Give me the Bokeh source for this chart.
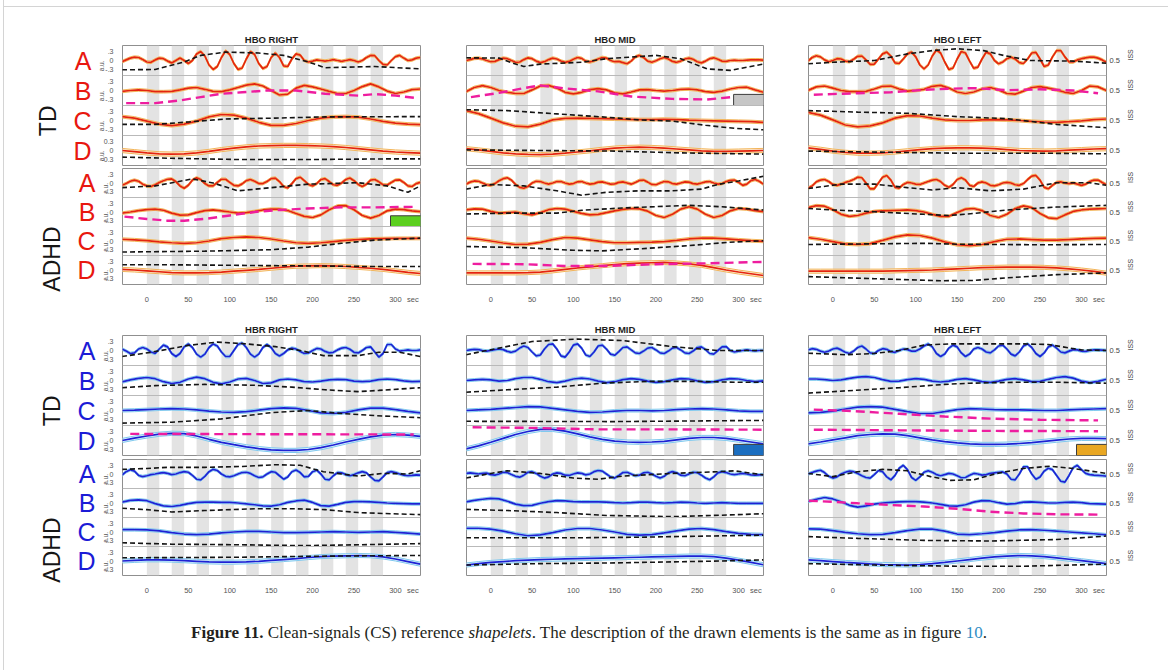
import math
from bokeh.embed import file_html
from bokeh.layouts import column, row
from bokeh.models import ColumnDataSource, Div, FixedTicker, LinearAxis, Range1d, Span
from bokeh.plotting import figure
from bokeh.resources import INLINE
from bokeh.transform import dodge

# ---------------------------------------------------------------- sample times (s)
T5 = list(range(-30, 331, 5))     # strip A
T10 = list(range(-30, 331, 10))   # strip B
T15 = list(range(-30, 331, 15))   # strips C, D

# stimulation blocks (grey bands)
BLOCK_START = [0, 30, 60, 90, 120, 150, 180, 210, 240, 270]
BLOCK_LEN = 15
X_TICKS = [0, 50, 100, 150, 200, 250, 300]
SEC_POS = 321

# ---------------------------------------------------------------- HBO RIGHT
HBO_RIGHT_TD_A = [-0.04, 0.02, 0.08, 0.11, 0.10, 0.03, -0.05, -0.06, 0.02, 0.08, 0.06, -0.02, -0.08, 0.0, 0.08, 0.0, -0.10,
                  0.0, 0.22, 0.30, 0.15, -0.15, -0.30, -0.20, 0.10, 0.32, 0.20, -0.10, -0.30, -0.25, 0.05, 0.30, 0.20, -0.10, -0.27, -0.20, 0.10,
                  0.25, 0.10, -0.18, -0.20, 0.05, 0.22, 0.18, 0.0, -0.05, -0.02,
                  0.02, 0.0, -0.02, 0.0, 0.03, 0.0, -0.03, 0.0, 0.03, 0.0, -0.05, 0.0, 0.10, 0.17, 0.16, 0.0, -0.13, -0.15, 0.0, 0.13, 0.17, 0.08, 0.0, 0.02, 0.08, 0.10]
HBO_RIGHT_TD_A_DX = [-30, 10, 45, 65, 95, 135, 165, 195, 215, 275, 330]
HBO_RIGHT_TD_A_DY = [-0.31, -0.30, -0.05, 0.17, 0.28, 0.25, 0.17, -0.05, -0.24, -0.20, -0.28]
HBO_RIGHT_TD_B = [-0.03, 0.0, 0.02, 0.0, -0.04, -0.04, -0.03, 0.02, 0.08, 0.10, 0.04, -0.03, -0.04, 0.02, 0.10, 0.18, 0.22, 0.15, 0.0,
                  -0.15, -0.12, 0.08, 0.17, 0.12, 0.05, -0.03, -0.10, -0.10, 0.0, 0.13, 0.22, 0.12, -0.02, -0.10, -0.05, 0.03, 0.05]
HBO_RIGHT_TD_B_DX = [-25, 10, 40, 65, 90, 115, 145, 180, 215, 255, 275, 300, 325]
HBO_RIGHT_TD_B_DY = [-0.42, -0.42, -0.33, -0.22, -0.11, -0.06, 0.0, 0.0, -0.11, -0.17, -0.12, -0.17, -0.25]
HBO_RIGHT_TD_C = [0.13, 0.08, -0.02, -0.12, -0.17, -0.12, -0.02, 0.12, 0.20, 0.18, 0.08, -0.06, -0.16, -0.16, -0.10, 0.0, 0.08, 0.12, 0.13,
                  0.11, 0.05, -0.03, -0.09, -0.12, -0.14]
HBO_RIGHT_TD_C_DX = [-30, 10, 50, 95, 155, 215, 330]
HBO_RIGHT_TD_C_DY = [-0.13, -0.13, -0.05, 0.05, 0.08, 0.12, 0.13]
HBO_RIGHT_TD_D = [0.0, -0.04, -0.08, -0.11, -0.12, -0.11, -0.08, -0.03, 0.03, 0.08, 0.12, 0.15, 0.16, 0.17, 0.17, 0.16, 0.15, 0.13, 0.10,
                  0.06, 0.02, -0.02, -0.05, -0.07, -0.09]
HBO_RIGHT_TD_D_DX = [-30, 30, 110, 200, 290, 330]
HBO_RIGHT_TD_D_DY = [-0.22, -0.26, -0.30, -0.30, -0.28, -0.28]

HBO_RIGHT_ADHD_A = [-0.08, -0.02, 0.06, 0.10, 0.06, -0.04, -0.10, -0.12, -0.06, 0.02, 0.08, 0.13, 0.14, 0.05, -0.10, -0.18, -0.08,
                    0.10, 0.18, 0.12, -0.02, -0.10, -0.10, 0.02, 0.13, 0.13, 0.02, -0.08, -0.10, -0.03, 0.08, 0.12, 0.06, -0.02, -0.02, 0.05, 0.15,
                    0.17, 0.05, -0.12, -0.17, -0.02, 0.15, 0.20, 0.08, -0.05, -0.10,
                    -0.02, 0.12, 0.15, 0.05, -0.06, -0.08, 0.0, 0.12, 0.17, 0.08, -0.05, -0.12, -0.04, 0.10, 0.12, 0.04, -0.06, -0.07, 0.02, 0.10,
                    0.11, 0.02, -0.10, -0.12, -0.02, 0.02]
HBO_RIGHT_ADHD_A_DX = [-30, 10, 55, 80, 110, 150, 195, 255, 290, 315, 330]
HBO_RIGHT_ADHD_A_DY = [-0.16, -0.10, 0.14, 0.0, -0.27, -0.16, -0.04, 0.01, -0.10, -0.32, -0.10]
HBO_RIGHT_ADHD_B = [-0.04, 0.0, 0.05, 0.08, 0.10, 0.06, -0.04, -0.11, -0.10, -0.02, 0.05, 0.07, 0.04, 0.0, -0.04, -0.02, 0.02, 0.07, 0.10,
                    0.10, 0.05, -0.05, -0.15, -0.19, -0.10, 0.08, 0.21, 0.22, 0.08, -0.12, -0.21, -0.12, 0.04, 0.10, 0.08, 0.04, 0.01]
HBO_RIGHT_ADHD_B_DX = [-27, 0, 25, 45, 72, 100, 133, 161, 193, 234, 274, 326]
HBO_RIGHT_ADHD_B_DY = [-0.16, -0.24, -0.30, -0.30, -0.23, -0.12, 0.01, 0.07, 0.12, 0.16, 0.16, 0.18]
HBO_RIGHT_ADHD_C = [0.06, 0.04, 0.01, -0.03, -0.06, -0.08, -0.06, 0.0, 0.08, 0.12, 0.14, 0.12, 0.07, 0.0, -0.06, -0.08, -0.06, -0.02,
                    0.02, 0.05, 0.07, 0.08, 0.09, 0.09, 0.09]
HBO_RIGHT_ADHD_C_DX = [-30, 70, 150, 195, 235, 275, 330]
HBO_RIGHT_ADHD_C_DY = [-0.38, -0.35, -0.30, -0.21, -0.08, 0.03, 0.10]
HBO_RIGHT_ADHD_D = [0.02, 0.0, -0.03, -0.06, -0.09, -0.10, -0.10, -0.09, -0.07, -0.04, -0.01, 0.02, 0.06, 0.10, 0.13, 0.14, 0.15, 0.14,
                    0.12, 0.09, 0.06, 0.02, -0.03, -0.08, -0.12]
HBO_RIGHT_ADHD_D_DX = [-30, 30, 150, 200, 270, 330]
HBO_RIGHT_ADHD_D_DY = [0.18, 0.18, 0.15, 0.14, 0.12, 0.12]

# ---------------------------------------------------------------- HBO MID
HBO_MID_TD_A = [0.0, 0.03, 0.07, 0.08, 0.05, 0.0, -0.04, -0.03, 0.03, 0.08, 0.06, 0.0, -0.06, -0.05, 0.03, 0.09, 0.06,
                -0.02, -0.07, -0.04, 0.03, 0.08, 0.05, -0.02, -0.06, -0.03, 0.04, 0.10, 0.07, -0.02, -0.05, -0.01, 0.05, 0.10, 0.08, 0.0, -0.04,
                -0.03, -0.07, -0.11, -0.02, 0.12, 0.17, 0.10, -0.02, -0.06, -0.01,
                0.06, 0.10, 0.05, -0.03, -0.06, -0.02, 0.05, 0.08, 0.04, -0.04, -0.08, -0.02, 0.06, 0.09, 0.04, -0.02, -0.03, 0.0, 0.01, 0.0,
                0.0, 0.01, 0.02, 0.02, 0.02, 0.01]
HBO_MID_TD_A_DX = [-30, 10, 30, 40, 60, 110, 140, 200, 230, 262, 290, 330]
HBO_MID_TD_A_DY = [0.09, 0.08, -0.12, -0.20, -0.12, -0.06, 0.06, 0.17, 0.06, -0.28, -0.33, -0.12]
HBO_MID_TD_B = [-0.04, 0.10, 0.16, 0.10, 0.0, -0.06, -0.10, -0.10, 0.02, 0.15, 0.17, 0.08, -0.06, -0.11, -0.06, 0.03, 0.06, 0.02, -0.08,
                -0.11, -0.05, 0.02, 0.03, 0.0, -0.02, 0.0, 0.04, 0.05, 0.02, -0.04, -0.06, -0.02, 0.05, 0.10, 0.11, 0.02, -0.06]
HBO_MID_TD_B_DX = [-24, 10, 40, 60, 90, 130, 170, 220, 262, 292]
HBO_MID_TD_B_DY = [-0.22, -0.08, 0.08, 0.17, 0.07, -0.03, -0.20, -0.28, -0.30, -0.22]
HBO_MID_TD_C = [0.33, 0.23, 0.08, -0.08, -0.19, -0.21, -0.12, 0.02, 0.07, 0.08, 0.07, 0.06, 0.05, 0.04, 0.03, 0.03, 0.04, 0.03, 0.01,
                0.0, -0.01, -0.02, -0.03, -0.04, -0.06]
HBO_MID_TD_C_DX = [-30, 20, 80, 140, 180, 220, 260, 295, 330]
HBO_MID_TD_C_DY = [0.36, 0.33, 0.22, 0.11, 0.02, -0.02, -0.16, -0.26, -0.31]
HBO_MID_TD_D = [0.06, 0.02, -0.03, -0.08, -0.11, -0.13, -0.14, -0.12, -0.09, -0.05, -0.01, 0.04, 0.08, 0.10, 0.11, 0.10, 0.08, 0.05,
                0.02, -0.01, -0.03, -0.03, -0.02, -0.01, 0.0]
HBO_MID_TD_D_DX = [-30, 60, 150, 230, 330]
HBO_MID_TD_D_DY = [0.02, 0.0, -0.02, -0.08, -0.12]

HBO_MID_ADHD_A = [-0.04, 0.03, 0.07, 0.06, 0.0, -0.06, -0.08, -0.02, 0.08, 0.15, 0.18, 0.10, -0.05, -0.15, -0.18, -0.12, 0.0,
                  0.06, 0.05, 0.0, -0.04, 0.0, 0.05, 0.05, 0.0, -0.04, -0.02, 0.04, 0.05, 0.0, -0.04, -0.02, 0.03, 0.04, 0.0, -0.04, -0.03,
                  0.02, 0.04, 0.0, -0.04, 0.02, 0.09, 0.10, 0.03, -0.05, -0.06,
                  0.0, 0.05, 0.04, -0.02, -0.04, 0.0, 0.04, 0.03, -0.02, -0.04, 0.0, 0.04, 0.05, 0.0, -0.04, -0.02, 0.05, 0.09, 0.10, 0.02,
                  -0.08, -0.04, 0.08, 0.12, 0.06, -0.04]
HBO_MID_ADHD_A_DX = [-30, 0, 40, 80, 110, 140, 180, 220, 255, 275, 300, 330]
HBO_MID_ADHD_A_DY = [-0.21, -0.05, -0.10, -0.27, -0.42, -0.32, -0.27, -0.27, -0.21, -0.05, 0.07, 0.23]
HBO_MID_ADHD_B = [0.07, 0.11, 0.10, 0.02, -0.04, -0.02, 0.0, -0.06, -0.10, -0.02, 0.08, 0.12, 0.10, 0.02, -0.05, -0.10, -0.08, -0.02,
                  0.04, 0.09, 0.12, 0.11, 0.03, -0.12, -0.19, -0.08, 0.10, 0.18, 0.10, -0.08, -0.19, -0.12, 0.04, 0.12, 0.10, 0.05, 0.01]
HBO_MID_ADHD_B_DX = [-30, 20, 80, 110, 160, 240, 280, 330]
HBO_MID_ADHD_B_DY = [-0.07, -0.04, -0.04, 0.06, 0.14, 0.23, 0.18, 0.07]
HBO_MID_ADHD_C = [0.10, 0.06, 0.0, -0.07, -0.12, -0.11, -0.05, 0.05, 0.12, 0.10, 0.04, -0.02, -0.06, -0.06, -0.05, -0.04, -0.02, 0.02,
                  0.07, 0.10, 0.10, 0.07, 0.04, 0.01, -0.01]
HBO_MID_ADHD_C_DX = [-30, 40, 100, 135, 180, 240, 285, 330]
HBO_MID_ADHD_C_DY = [-0.19, -0.23, -0.32, -0.34, -0.27, -0.16, -0.05, 0.01]
HBO_MID_ADHD_D = [-0.10, -0.10, -0.10, -0.10, -0.10, -0.09, -0.07, -0.03, 0.02, 0.07, 0.11, 0.15, 0.19, 0.22, 0.24, 0.25, 0.26, 0.24,
                  0.21, 0.16, 0.08, 0.0, -0.07, -0.13, -0.19]
HBO_MID_ADHD_D_DX = [-22, 40, 90, 140, 200, 260, 330]
HBO_MID_ADHD_D_DY = [0.21, 0.20, 0.14, 0.14, 0.20, 0.23, 0.28]

# ---------------------------------------------------------------- HBO LEFT
HBO_LEFT_TD_A = [-0.02, 0.10, 0.16, 0.12, 0.02, -0.04, 0.0, 0.06, 0.05, -0.02, -0.04, 0.04, 0.14, 0.15, 0.02, -0.13, -0.12,
                 0.05, 0.22, 0.28, 0.15, -0.08, -0.10, 0.05, 0.22, 0.28, 0.12, -0.15, -0.28, -0.15, 0.15, 0.35, 0.25, -0.05, -0.30, -0.25, 0.05,
                 0.30, 0.25, -0.02, -0.26, -0.22, 0.05, 0.28, 0.22, 0.0, -0.11,
                 -0.05, 0.06, 0.11, 0.05, -0.07, -0.10, 0.05, 0.25, 0.27, 0.05, -0.20, -0.15, 0.12, 0.33, 0.33, 0.12, -0.05, -0.05, 0.02, 0.06,
                 0.09, 0.11, 0.11, 0.08, 0.02, -0.06]
HBO_LEFT_TD_A_DX = [-30, 0, 50, 90, 120, 150, 182, 206, 238, 290, 330]
HBO_LEFT_TD_A_DY = [-0.11, -0.06, 0.0, 0.22, 0.33, 0.39, 0.33, 0.17, 0.0, -0.02, -0.09]
HBO_LEFT_TD_B = [0.0, 0.12, 0.15, 0.08, 0.0, -0.04, -0.04, -0.03, 0.05, 0.14, 0.15, 0.05, -0.02, 0.0, 0.04, 0.14, 0.17, 0.08, -0.05,
                 -0.10, -0.05, 0.05, 0.10, 0.02, -0.10, -0.12, -0.02, 0.10, 0.13, 0.08, 0.02, -0.06, -0.10, 0.0, 0.15, 0.12, 0.0]
HBO_LEFT_TD_B_DX = [-23, 30, 70, 110, 140, 170, 210, 250, 290, 320]
HBO_LEFT_TD_B_DY = [-0.14, -0.09, -0.06, 0.02, 0.06, 0.08, 0.01, 0.04, 0.0, -0.09]
HBO_LEFT_TD_C = [0.27, 0.18, 0.02, -0.15, -0.21, -0.18, -0.08, 0.08, 0.16, 0.15, 0.08, 0.02, 0.0, 0.0, 0.02, 0.03, 0.02, 0.0, -0.03,
                 -0.05, -0.06, -0.04, -0.01, 0.03, 0.05]
HBO_LEFT_TD_C_DX = [-30, 30, 90, 150, 210, 270, 330]
HBO_LEFT_TD_C_DY = [0.33, 0.28, 0.24, 0.13, 0.06, -0.13, -0.24]
HBO_LEFT_TD_D = [0.09, 0.04, -0.02, -0.06, -0.09, -0.09, -0.08, -0.05, -0.01, 0.03, 0.06, 0.08, 0.09, 0.09, 0.08, 0.06, 0.03, 0.0,
                 -0.01, -0.02, -0.01, 0.01, 0.03, 0.05, 0.06]
HBO_LEFT_TD_D_DX = [-30, 70, 150, 250, 330]
HBO_LEFT_TD_D_DY = [-0.02, -0.06, -0.09, -0.09, -0.11]

HBO_LEFT_ADHD_A = [-0.18, -0.10, 0.04, 0.10, 0.12, 0.05, -0.05, -0.08, -0.04, 0.02, 0.06, 0.12, 0.20, 0.18, 0.0, -0.20, -0.20,
                   0.0, 0.20, 0.26, 0.10, -0.15, -0.18, -0.05, 0.02, 0.0, -0.04, -0.05, 0.0, 0.05, 0.10, 0.12, 0.05, -0.08, -0.15, -0.05, 0.12,
                   0.18, 0.10, -0.08, -0.12, 0.0, 0.04, 0.0, -0.08, -0.10, -0.06,
                   0.0, 0.02, 0.0, -0.06, -0.08, -0.02, 0.12, 0.24, 0.26, 0.10, -0.15, -0.20, -0.08, 0.02, 0.04, 0.0, -0.02, 0.0, -0.04, -0.08,
                   -0.04, 0.05, 0.10, 0.10, 0.02, -0.06]
HBO_LEFT_ADHD_A_DX = [-30, 10, 50, 90, 120, 150, 190, 230, 270, 310, 330]
HBO_LEFT_ADHD_A_DY = [-0.19, -0.04, -0.04, -0.16, -0.24, -0.16, -0.27, -0.21, 0.01, 0.01, -0.08]
HBO_LEFT_ADHD_B = [0.15, 0.22, 0.20, 0.08, -0.08, -0.15, -0.12, -0.04, 0.02, 0.04, 0.05, 0.06, 0.07, 0.05, 0.0, -0.08, -0.15, -0.15,
                   -0.02, 0.10, 0.12, 0.05, -0.12, -0.19, -0.08, 0.12, 0.21, 0.15, -0.05, -0.20, -0.23, -0.10, 0.02, 0.07, 0.10, 0.11, 0.12]
HBO_LEFT_ADHD_B_DX = [-30, 0, 50, 110, 140, 170, 210, 270, 330]
HBO_LEFT_ADHD_B_DY = [0.12, 0.07, 0.01, -0.08, -0.12, -0.05, 0.07, 0.17, 0.23]
HBO_LEFT_ADHD_C = [0.12, 0.06, -0.02, -0.10, -0.12, -0.09, 0.02, 0.14, 0.21, 0.19, 0.10, -0.03, -0.13, -0.16, -0.12, -0.02, 0.06, 0.07,
                   0.05, 0.03, 0.03, 0.05, 0.07, 0.09, 0.10]
HBO_LEFT_ADHD_C_DX = [-30, 110, 150, 250, 330]
HBO_LEFT_ADHD_C_DY = [-0.12, -0.08, -0.11, -0.13, -0.12]
HBO_LEFT_ADHD_D = [-0.04, -0.04, -0.04, -0.04, -0.04, -0.04, -0.04, -0.03, -0.02, -0.01, 0.0, 0.02, 0.04, 0.06, 0.08, 0.09, 0.10, 0.10,
                   0.10, 0.09, 0.07, 0.04, 0.0, -0.05, -0.11]
HBO_LEFT_ADHD_D_DX = [-30, 50, 130, 170, 210, 270, 330]
HBO_LEFT_ADHD_D_DY = [-0.23, -0.30, -0.37, -0.36, -0.27, -0.16, -0.10]

# ---------------------------------------------------------------- HBR RIGHT
HBR_RIGHT_TD_A = [0.05, -0.02, -0.10, -0.08, 0.05, 0.10, 0.05, -0.05, -0.10, 0.05, 0.18, 0.12, -0.10, -0.20, -0.10, 0.12, 0.22,
                  0.10, -0.12, -0.22, -0.12, 0.10, 0.22, 0.15, -0.05, -0.20, -0.20, 0.0, 0.20, 0.25, 0.10, -0.12, -0.22, -0.12, 0.10, 0.20, 0.10,
                  -0.10, -0.18, -0.10, 0.02, 0.08, 0.05, -0.03, -0.10, -0.08, 0.0,
                  0.07, 0.05, -0.03, -0.08, -0.06, 0.02, 0.08, 0.10, 0.04, -0.06, -0.08, 0.0, 0.10, 0.12, -0.05, -0.22, -0.10, 0.20, 0.20, 0.05,
                  -0.02, 0.0, 0.02, 0.0, 0.0, 0.02]
HBR_RIGHT_TD_A_DX = [-30, 5, 50, 85, 120, 155, 185, 213, 255, 280, 305, 330]
HBR_RIGHT_TD_A_DY = [-0.20, -0.06, 0.17, 0.28, 0.22, 0.13, 0.0, -0.17, -0.17, -0.06, -0.06, -0.20]
HBR_RIGHT_TD_B = [-0.05, 0.02, 0.07, 0.10, 0.06, -0.04, -0.10, -0.06, 0.05, 0.11, 0.06, -0.06, -0.11, -0.05, 0.05, 0.07, 0.0, -0.10,
                  -0.08, 0.02, 0.05, 0.02, -0.04, -0.05, -0.02, 0.02, 0.04, 0.03, -0.02, -0.04, -0.02, 0.03, 0.05, 0.03, -0.01, -0.04, -0.03]
HBR_RIGHT_TD_B_DX = [-30, 10, 70, 130, 175, 215, 255, 280, 330]
HBR_RIGHT_TD_B_DY = [-0.24, -0.17, -0.13, -0.16, -0.22, -0.31, -0.37, -0.33, -0.24]
HBR_RIGHT_TD_C = [0.0, 0.01, 0.03, 0.05, 0.06, 0.05, 0.02, -0.02, -0.05, -0.06, -0.04, 0.01, 0.06, 0.09, 0.07, 0.0, -0.08, -0.10,
                  -0.06, 0.02, 0.08, 0.08, 0.03, -0.03, -0.08]
HBR_RIGHT_TD_C_DX = [-30, 30, 90, 150, 195, 235, 275, 330]
HBR_RIGHT_TD_C_DY = [-0.42, -0.39, -0.28, -0.07, 0.0, -0.10, -0.17, -0.24]
HBR_RIGHT_TD_D = [0.0, 0.08, 0.15, 0.21, 0.24, 0.23, 0.15, 0.04, -0.06, -0.14, -0.21, -0.27, -0.31, -0.33, -0.33, -0.30, -0.24, -0.15,
                  -0.05, 0.04, 0.12, 0.18, 0.20, 0.18, 0.14]
HBR_RIGHT_TD_D_DX = [-20, 150, 322]
HBR_RIGHT_TD_D_DY = [0.22, 0.21, 0.20]

HBR_RIGHT_ADHD_A = [-0.04, 0.08, 0.15, 0.10, -0.05, -0.09, -0.06, -0.02, 0.0, 0.03, 0.05, 0.02, -0.02, 0.0, 0.05, 0.08, 0.06,
                    -0.05, -0.18, -0.20, -0.08, 0.08, 0.16, 0.12, 0.0, -0.08, -0.10, -0.06, 0.0, 0.05, 0.06, 0.02, -0.06, -0.12, -0.10, 0.0, 0.08,
                    0.06, -0.06, -0.18, -0.10, 0.08, 0.14, 0.05, -0.10, -0.08, 0.08,
                    0.13, 0.0, -0.18, -0.20, -0.06, 0.05, 0.04, -0.02, -0.06, -0.02, 0.04, 0.08, 0.04, -0.10, -0.22, -0.24, -0.10, 0.05, 0.08, 0.05,
                    0.0, -0.04, -0.06, -0.05, -0.03, -0.04]
HBR_RIGHT_ADHD_A_DX = [-30, 0, 25, 70, 115, 155, 185, 213, 255, 285, 315, 330]
HBR_RIGHT_ADHD_A_DY = [0.16, 0.19, 0.23, 0.23, 0.26, 0.32, 0.30, 0.08, -0.07, 0.02, 0.0, 0.11]
HBR_RIGHT_ADHD_B = [0.03, 0.09, 0.11, 0.08, -0.02, -0.10, -0.12, -0.08, -0.02, 0.02, 0.03, 0.03, 0.02, 0.02, 0.0, -0.03, -0.06, -0.10,
                    -0.11, -0.06, 0.02, 0.07, 0.10, 0.02, -0.09, -0.11, -0.05, 0.02, 0.05, 0.05, 0.04, 0.02, 0.0, -0.01, -0.02, -0.03, -0.03]
HBR_RIGHT_ADHD_B_DX = [-30, 0, 30, 70, 130, 180, 215, 255, 295, 330]
HBR_RIGHT_ADHD_B_DY = [-0.18, -0.23, -0.31, -0.26, -0.20, -0.20, -0.23, -0.33, -0.37, -0.40]
HBR_RIGHT_ADHD_C = [0.08, 0.08, 0.07, 0.04, -0.02, -0.07, -0.09, -0.07, -0.03, 0.0, 0.02, 0.02, 0.0, -0.02, -0.02, -0.01, 0.0, 0.01,
                    0.0, -0.01, 0.0, 0.01, -0.01, -0.04, -0.07]
HBR_RIGHT_ADHD_C_DX = [-30, 30, 110, 190, 255, 330]
HBR_RIGHT_ADHD_C_DY = [-0.37, -0.42, -0.44, -0.47, -0.44, -0.40]
HBR_RIGHT_ADHD_D = [0.0, 0.02, 0.04, 0.04, 0.03, 0.01, -0.01, -0.03, -0.04, -0.04, -0.03, -0.01, 0.02, 0.05, 0.08, 0.12, 0.15, 0.17,
                    0.18, 0.19, 0.18, 0.14, 0.07, -0.02, -0.11]
HBR_RIGHT_ADHD_D_DX = [-30, 110, 190, 270, 330]
HBR_RIGHT_ADHD_D_DY = [0.11, 0.13, 0.16, 0.18, 0.19]

# ---------------------------------------------------------------- HBR MID
HBR_MID_TD_A = [0.0, 0.02, 0.04, 0.03, 0.0, -0.02, 0.0, 0.03, 0.05, 0.03, -0.03, -0.06, -0.02, 0.08, 0.15, 0.10, -0.05,
                -0.18, -0.15, 0.05, 0.20, 0.22, 0.05, -0.18, -0.22, -0.05, 0.18, 0.22, 0.08, -0.15, -0.20, -0.05, 0.15, 0.18, 0.05, -0.12, -0.16,
                -0.04, 0.10, 0.12, 0.02, -0.08, -0.10, -0.02, 0.08, 0.10, 0.02,
                -0.08, -0.10, -0.02, 0.08, 0.10, 0.02, -0.08, -0.10, -0.02, 0.10, 0.12, 0.03, -0.10, -0.12, 0.0, 0.12, 0.13, 0.0, -0.05, -0.02,
                0.0, 0.02, 0.0, -0.01, 0.0, 0.0]
HBR_MID_TD_A_DX = [-30, 10, 50, 105, 160, 220, 275, 330]
HBR_MID_TD_A_DY = [-0.14, 0.08, 0.30, 0.38, 0.33, 0.13, 0.0, 0.0]
HBR_MID_TD_B = [0.0, 0.02, 0.04, 0.02, -0.02, 0.0, 0.06, 0.10, 0.10, 0.04, -0.04, -0.07, -0.02, 0.05, 0.08, 0.05, -0.02, -0.07, -0.04,
                0.03, 0.06, 0.04, -0.02, -0.06, -0.04, 0.02, 0.06, 0.05, -0.01, -0.06, -0.04, 0.02, 0.06, 0.05, 0.0, -0.04, -0.01]
HBR_MID_TD_B_DX = [-30, 20, 80, 135, 190, 250, 300, 330]
HBR_MID_TD_B_DY = [-0.39, -0.31, -0.22, -0.09, -0.03, -0.03, -0.06, -0.06]
HBR_MID_TD_C = [0.0, 0.02, 0.04, 0.07, 0.10, 0.13, 0.12, 0.07, 0.02, -0.03, -0.06, -0.05, -0.02, 0.0, 0.0, -0.01, 0.0, 0.03, 0.05,
                0.06, 0.05, 0.02, -0.01, -0.03, -0.03]
HBR_MID_TD_C_DX = [-30, 150, 330]
HBR_MID_TD_C_DY = [-0.36, -0.37, -0.33]
HBR_MID_TD_D = [-0.28, -0.18, -0.06, 0.07, 0.20, 0.30, 0.37, 0.37, 0.31, 0.22, 0.12, 0.04, -0.02, -0.05, -0.06, -0.05, -0.03, 0.02,
                0.07, 0.10, 0.10, 0.07, 0.01, -0.05, -0.11]
HBR_MID_TD_D_DX = [-22, 50, 130, 220, 330]
HBR_MID_TD_D_DY = [0.44, 0.42, 0.37, 0.37, 0.36]

HBR_MID_ADHD_A = [0.02, 0.04, 0.02, 0.0, 0.02, 0.03, -0.02, -0.04, 0.0, 0.06, 0.05, -0.02, -0.08, -0.11, -0.04, 0.06, 0.08,
                  0.02, -0.08, -0.14, -0.10, 0.0, 0.04, 0.02, -0.04, -0.05, 0.0, 0.04, 0.02, -0.03, 0.0, 0.08, 0.12, 0.10, 0.0, -0.10, -0.14,
                  -0.05, 0.05, 0.06, 0.0, -0.06, -0.04, 0.04, 0.06, 0.0, -0.08,
                  -0.14, -0.08, 0.04, 0.08, 0.04, -0.04, -0.06, 0.0, 0.06, 0.05, -0.04, -0.14, -0.20, -0.10, 0.04, 0.08, 0.05, 0.0, -0.02, 0.0,
                  0.02, 0.0, -0.03, -0.04, -0.03, -0.02]
HBR_MID_ADHD_A_DX = [-30, 0, 20, 60, 100, 130, 160, 220, 275, 295, 330]
HBR_MID_ADHD_A_DY = [-0.14, 0.02, 0.11, 0.02, -0.14, -0.18, -0.07, 0.02, 0.08, 0.11, -0.03]
HBR_MID_ADHD_B = [0.04, 0.09, 0.13, 0.16, 0.14, 0.06, -0.04, -0.09, -0.08, -0.01, 0.05, 0.08, 0.07, 0.05, 0.04, 0.04, 0.04, 0.03, 0.01,
                  0.0, 0.01, 0.03, 0.03, 0.01, 0.0, 0.01, 0.03, 0.02, 0.0, -0.01, 0.0, 0.01, 0.0, -0.01, -0.01, -0.01, -0.01]
HBR_MID_ADHD_B_DX = [-30, 20, 80, 140, 220, 280, 330]
HBR_MID_ADHD_B_DY = [-0.22, -0.26, -0.33, -0.43, -0.47, -0.42, -0.37]
HBR_MID_ADHD_C = [0.13, 0.13, 0.10, 0.03, -0.06, -0.13, -0.10, -0.02, 0.07, 0.12, 0.12, 0.07, 0.0, -0.08, -0.11, -0.09, -0.03, 0.04,
                  0.10, 0.12, 0.08, 0.01, -0.05, -0.08, -0.09]
HBR_MID_ADHD_C_DX = [-30, 100, 180, 260, 330]
HBR_MID_ADHD_C_DY = [-0.20, -0.20, -0.18, -0.14, -0.11]
HBR_MID_ADHD_D = [-0.14, -0.09, -0.05, -0.02, 0.01, 0.03, 0.05, 0.06, 0.07, 0.08, 0.09, 0.10, 0.11, 0.12, 0.13, 0.14, 0.15, 0.16,
                  0.17, 0.17, 0.15, 0.10, 0.03, -0.05, -0.13]
HBR_MID_ADHD_D_DX = [-30, 60, 140, 220, 280, 330]
HBR_MID_ADHD_D_DY = [-0.14, -0.09, -0.07, -0.03, 0.0, 0.04]

# ---------------------------------------------------------------- HBR LEFT
HBR_LEFT_TD_A = [0.02, 0.06, 0.04, -0.02, -0.06, -0.02, 0.05, 0.08, 0.02, -0.06, -0.10, -0.02, 0.10, 0.15, 0.05, -0.08, -0.10,
                 0.0, 0.06, 0.04, -0.04, -0.06, 0.0, 0.05, 0.03, -0.02, -0.02, 0.05, 0.15, 0.22, 0.12, -0.10, -0.20, -0.12, 0.08, 0.18, 0.12,
                 -0.08, -0.20, -0.12, 0.05, 0.10, 0.05, -0.05, -0.08, 0.02, 0.15,
                 0.18, 0.05, -0.12, -0.18, -0.05, 0.15, 0.22, 0.10, -0.10, -0.20, -0.08, 0.12, 0.18, 0.08, -0.05, -0.08, -0.02, 0.03, 0.02, -0.02,
                 -0.03, 0.0, 0.02, 0.02, 0.01, 0.0]
HBR_LEFT_TD_A_DX = [-30, 15, 50, 80, 110, 140, 190, 230, 260, 300, 330]
HBR_LEFT_TD_A_DY = [-0.09, -0.14, -0.10, 0.0, 0.18, 0.22, 0.22, 0.22, 0.20, 0.02, 0.0]
HBR_LEFT_TD_B = [0.05, 0.05, 0.03, 0.0, 0.02, 0.07, 0.11, 0.13, 0.10, 0.03, -0.03, -0.02, 0.03, 0.06, 0.04, -0.02, -0.05, -0.02, 0.04,
                 0.06, 0.02, -0.04, -0.06, -0.02, 0.04, 0.06, 0.02, -0.04, -0.03, 0.04, 0.10, 0.13, 0.08, -0.02, -0.07, -0.03, 0.04]
HBR_LEFT_TD_B_DX = [-30, 25, 80, 135, 165, 220, 275, 330]
HBR_LEFT_TD_B_DY = [-0.42, -0.33, -0.24, -0.13, -0.09, -0.06, -0.06, -0.09]
HBR_LEFT_TD_C = [-0.08, -0.06, -0.02, 0.05, 0.11, 0.13, 0.11, 0.04, -0.04, -0.10, -0.10, -0.04, 0.03, 0.06, 0.05, 0.03, 0.02, 0.02,
                 0.01, 0.0, 0.0, 0.02, 0.04, 0.05, 0.06]
HBR_LEFT_TD_C_DX = [-23, 25, 80, 135, 190, 250, 320]
HBR_LEFT_TD_C_DY = [0.03, -0.02, -0.11, -0.20, -0.27, -0.31, -0.33]
HBR_LEFT_TD_D = [-0.11, -0.05, 0.02, 0.09, 0.16, 0.20, 0.22, 0.21, 0.16, 0.09, 0.02, -0.04, -0.08, -0.11, -0.13, -0.13, -0.12, -0.10,
                 -0.07, -0.03, 0.01, 0.05, 0.07, 0.07, 0.06]
HBR_LEFT_TD_D_DX = [-23, 80, 190, 320]
HBR_LEFT_TD_D_DY = [0.36, 0.34, 0.32, 0.31]

HBR_LEFT_ADHD_A = [0.0, 0.05, 0.10, 0.13, 0.05, -0.08, -0.14, -0.10, 0.0, 0.06, 0.10, 0.08, 0.02, -0.06, -0.12, -0.14, -0.02,
                   0.12, 0.08, -0.10, -0.20, -0.05, 0.20, 0.30, 0.15, -0.12, -0.22, -0.10, 0.06, 0.11, 0.06, -0.02, -0.06, -0.02, 0.02, 0.0, -0.06,
                   -0.13, -0.12, -0.04, 0.02, 0.0, -0.04, -0.02, 0.02, 0.04, 0.06,
                   0.07, 0.0, -0.18, -0.20, 0.0, 0.25, 0.25, 0.0, -0.18, -0.10, 0.10, 0.20, 0.15, -0.05, -0.25, -0.28, -0.05, 0.22, 0.30, 0.15,
                   0.02, -0.02, -0.04, -0.05, -0.06, -0.07]
HBR_LEFT_ADHD_A_DX = [-30, 0, 30, 60, 90, 118, 142, 170, 198, 230, 262, 290, 330]
HBR_LEFT_ADHD_A_DY = [0.02, -0.09, 0.08, 0.16, 0.11, -0.09, -0.22, -0.20, 0.02, 0.19, 0.27, 0.19, 0.02]
HBR_LEFT_ADHD_B = [0.05, 0.13, 0.19, 0.14, 0.04, -0.08, -0.14, -0.10, -0.04, 0.0, 0.02, 0.04, 0.05, 0.05, 0.03, 0.0, -0.05, -0.10,
                   -0.11, -0.06, 0.03, 0.08, 0.07, 0.01, -0.04, -0.02, 0.03, 0.04, 0.02, 0.0, 0.0, 0.02, 0.03, 0.01, -0.02, -0.03, -0.04]
HBR_LEFT_ADHD_B_DX = [-29, 0, 30, 70, 110, 150, 190, 230, 270, 320]
HBR_LEFT_ADHD_B_DY = [0.08, 0.04, -0.01, -0.07, -0.12, -0.20, -0.30, -0.36, -0.39, -0.40]
HBR_LEFT_ADHD_C = [0.11, 0.10, 0.05, -0.01, -0.06, -0.09, -0.08, -0.02, 0.05, 0.10, 0.10, 0.03, -0.07, -0.09, -0.06, -0.02, 0.03, 0.07,
                   0.08, 0.06, 0.03, 0.0, -0.03, -0.06, -0.10]
HBR_LEFT_ADHD_C_DX = [-30, 30, 110, 190, 270, 330]
HBR_LEFT_ADHD_C_DY = [-0.16, -0.22, -0.29, -0.31, -0.26, -0.14]
HBR_LEFT_ADHD_D = [0.04, 0.01, -0.02, -0.05, -0.07, -0.10, -0.12, -0.13, -0.14, -0.12, -0.09, -0.05, 0.0, 0.05, 0.10, 0.14, 0.17, 0.19,
                   0.18, 0.15, 0.11, 0.06, 0.01, -0.04, -0.09]
HBR_LEFT_ADHD_D_DX = [-30, 50, 150, 230, 330]
HBR_LEFT_ADHD_D_DY = [-0.09, -0.14, -0.18, -0.18, -0.11]

# strips whose reference curve is drawn in magenta
MAGENTA = {("HBO", "RIGHT", "TD", "B"), ("HBO", "RIGHT", "ADHD", "B"), ("HBO", "MID", "TD", "B"),
           ("HBO", "MID", "ADHD", "D"), ("HBO", "LEFT", "TD", "B"), ("HBR", "RIGHT", "TD", "D"),
           ("HBR", "MID", "TD", "D"), ("HBR", "LEFT", "TD", "C"), ("HBR", "LEFT", "TD", "D"),
           ("HBR", "LEFT", "ADHD", "B")}
# selected shapelet markers
HIGHLIGHT = {("HBO", "RIGHT", "ADHD", "B"): "#5ccf1f", ("HBO", "MID", "TD", "B"): "#c6c6c6",
             ("HBR", "MID", "TD", "D"): "#1b6ec0", ("HBR", "LEFT", "TD", "D"): "#e9a722"}
HIGHLIGHT_X = (294, 331)
HIGHLIGHT_Y = (-0.5, -0.13)

SIGNALS = ["HBO", "HBR"]
PANELS = ["RIGHT", "MID", "LEFT"]
GROUPS = ["TD", "ADHD"]
STRIPS = ["A", "B", "C", "D"]

# ---------------------------------------------------------------- styling / geometry
FONT = "Liberation Sans"
STYLE = {
    "HBO": dict(main="#e4240e", edge="#f2b55a", fill="#fde9cc", letter="#e8170f"),
    "HBR": dict(main="#1d22d4", edge="#80c9ee", fill="#d9f0fb", letter="#1b1bd6"),
}
ENV_HALF = {"A": 0.045, "B": 0.045, "C": 0.05, "D": 0.07}
GRID_FOR = {"A": T5, "B": T10, "C": T15, "D": T15}
CENTERS = [15, 5, -5, -15]           # strip centres on the box axis
NUM_TICKS = [18, 15, 12, 8, 5, 2, -2, -5, -8, -12, -15, -18]
STRIP_RANGES = {"A": (-3.5, 0.5), "B": (-2.5, 1.5), "C": (-1.5, 2.5), "D": (-0.5, 3.5)}

COL_W = [440, 350, 378]
COL_L = [122, 26, 18]
COL_R = [20, 27, 62]
BOX_H = {("HBO", "TD"): (166, 45, 1), ("HBO", "ADHD"): (140, 2, 18),
         ("HBR", "TD"): (150, 29, 1), ("HBR", "ADHD"): (141, 3, 18)}

# thin page frame drawn behind the (transparent) figure borders
PAGE_FRAME = ("inset 3px 0 0 0 #ffffff, inset 4px 0 0 0 #d4d4d4, "
              "inset 0 6px 0 0 #ffffff, inset 0 7px 0 0 #d4d4d4, "
              "inset -8px 0 0 0 #ffffff, inset -9px 0 0 0 #d4d4d4")


def side_axis(ticks, labels, size, color, standoff, angle=0.0):
    ax = LinearAxis(ticker=FixedTicker(ticks=ticks),
                    major_label_overrides=dict(zip(ticks, labels)))
    ax.axis_line_color = None
    ax.major_tick_line_color = None
    ax.minor_tick_line_color = None
    ax.major_label_text_font = FONT
    ax.major_label_text_font_size = size
    ax.major_label_text_color = color
    ax.major_label_standoff = standoff
    ax.major_label_orientation = angle
    return ax


def make_box(sig, ci, grp):
    panel = PANELS[ci]
    h, top, bottom = BOX_H[(sig, grp)]
    st = STYLE[sig]
    p = figure(width=COL_W[ci], height=h,
               x_range=Range1d(-29.4, 330.2), y_range=Range1d(-20, 20),
               min_border_left=COL_L[ci], min_border_right=COL_R[ci],
               min_border_top=top, min_border_bottom=bottom,
               x_axis_location="below" if grp == "ADHD" else None,
               y_axis_location="left" if ci == 0 else None,
               title=f"{sig} {panel}" if grp == "TD" else None,
               output_backend="svg", toolbar_location=None)
    p.grid.visible = False
    p.outline_line_color = "#8f8f8f"
    p.background_fill_color = "white"
    p.border_fill_color = None
    p.extra_y_ranges = {s: Range1d(*STRIP_RANGES[s]) for s in STRIPS}

    if grp == "TD":
        p.title.align = "center"
        p.title.text_font = FONT
        p.title.text_font_size = "9.5px"
        p.title.text_font_style = "bold"
        p.title.text_color = "#1e1e1e"
        p.title.standoff = 2

    # stimulation blocks
    p.quad(left=BLOCK_START, right=[s + BLOCK_LEN for s in BLOCK_START],
           bottom=-20, top=20, fill_color="#e3e3e3", line_color=None)
    for yv in (10, 0, -10):
        p.add_layout(Span(location=yv, dimension="width", line_color="#b9b9b9", line_width=1))

    for s in STRIPS:
        key = f"{sig}_{panel}_{grp}_{s}"
        src = ColumnDataSource(dict(x=GRID_FOR[s], y=globals()[key]))
        w = ENV_HALF[s]
        p.varea(x="x", y1=dodge("y", -w), y2=dodge("y", w), source=src,
                fill_color=st["fill"], fill_alpha=0.9, y_range_name=s)
        p.line("x", dodge("y", w), source=src, line_color=st["edge"], line_width=1, y_range_name=s)
        p.line("x", dodge("y", -w), source=src, line_color=st["edge"], line_width=1, y_range_name=s)
        p.line("x", "y", source=src, line_color=st["main"], line_width=1.7, y_range_name=s)

        hl = HIGHLIGHT.get((sig, panel, grp, s))
        if hl:
            p.quad(left=HIGHLIGHT_X[0], right=HIGHLIGHT_X[1], bottom=HIGHLIGHT_Y[0], top=HIGHLIGHT_Y[1],
                   fill_color=hl, line_color="#3c3c3c", line_width=1, y_range_name=s)

        dx, dy = globals()[key + "_DX"], globals()[key + "_DY"]
        if (sig, panel, grp, s) in MAGENTA:
            p.line(dx, dy, line_color="#ee1d9f", line_width=2.4, line_dash="9 5", y_range_name=s)
        else:
            p.line(dx, dy, line_color="#151515", line_width=1.6, line_dash="5 3", y_range_name=s)

    # left-hand labelling (first column only)
    if ci == 0:
        ax = p.yaxis[0]
        labels = [".3", "0", "-.3"] * 4
        if sig == "HBO" and grp == "TD":
            labels[9:12] = ["0.3", "0", "-0.3"]
        ax.ticker = FixedTicker(ticks=NUM_TICKS)
        ax.major_label_overrides = dict(zip(NUM_TICKS, labels))
        ax.axis_line_color = None
        ax.major_tick_line_color = None
        ax.minor_tick_line_color = None
        ax.major_label_text_font = FONT
        ax.major_label_text_font_size = "7px"
        ax.major_label_text_color = "#555555"
        ax.major_label_standoff = 3
        p.add_layout(side_axis(CENTERS, ["a.u."] * 4, "6.5px", "#555555", -9, math.pi / 2), "left")
        p.add_layout(side_axis(CENTERS, STRIPS, "25px", st["letter"], -6), "left")
        p.add_layout(side_axis([0], [grp], "23px", "#151515", 17, math.pi / 2), "left")

    # right-hand ISS scale (last column only)
    if ci == 2:
        iss = ["ISS"] * 4
        if sig == "HBO" and grp == "TD":
            iss[3] = ""
        p.add_layout(side_axis(CENTERS, ["0.5"] * 4, "7.5px", "#444444", -3), "right")
        p.add_layout(side_axis(CENTERS, iss, "7px", "#444444", 2, math.pi / 2), "right")

    if grp == "ADHD":
        xa = p.xaxis[0]
        xa.ticker = FixedTicker(ticks=X_TICKS + [SEC_POS])
        xa.major_label_overrides = {SEC_POS: "sec"}
        xa.axis_line_color = None
        xa.major_tick_line_color = None
        xa.minor_tick_line_color = None
        xa.major_label_text_font = FONT
        xa.major_label_text_font_size = "7.5px"
        xa.major_label_text_color = "#555555"
        xa.major_label_standoff = 4
    return p


rows = []
for sig in SIGNALS:
    for grp in GROUPS:
        rows.append(row([make_box(sig, ci, grp) for ci in range(3)]))

caption = Div(
    width=1168, height=73,
    text=('<div style="width:1168px;text-align:center;padding-top:21px;'
          "font-family:'Liberation Serif','DejaVu Serif',serif;font-size:17px;"
          'line-height:19px;color:#231f20;">'
          '<b>Figure 11.</b> Clean-signals (CS) reference <i>shapelets</i>. '
          'The description of the drawn elements is the same as in figure '
          '<span style="color:#2f8dc4;">10</span>.</div>'))

layout = column(rows + [caption], styles={"box-shadow": PAGE_FRAME, "background-color": "#ffffff"})
open("out.html", "w").write(file_html(layout, INLINE))
